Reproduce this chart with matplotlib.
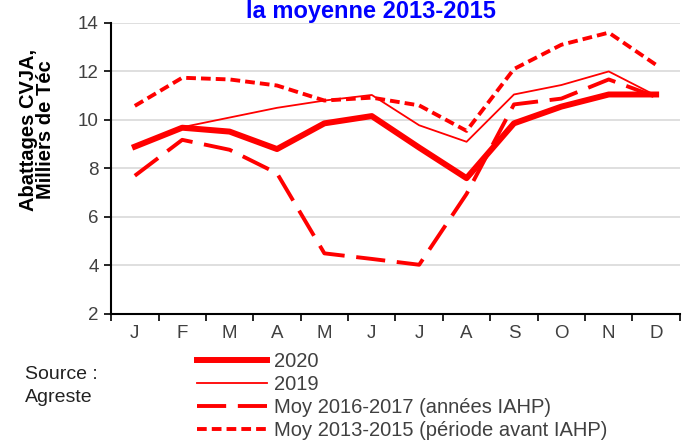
import matplotlib
matplotlib.use('Agg')
import matplotlib.pyplot as plt
import numpy as np

plt.rcParams['font.family'] = ['Liberation Sans', 'DejaVu Sans']

months = ['J', 'F', 'M', 'A', 'M', 'J', 'J', 'A', 'S', 'O', 'N', 'D']
y2020 = [8.9, 9.68, 9.52, 8.8, 9.86, 10.16, 8.86, 7.6, 9.86, 10.55, 11.05, 11.05]
y2019 = [8.95, 9.7, 10.1, 10.5, 10.8, 11.03, 9.78, 9.1, 11.05, 11.44, 12.0, 11.0]
moy_2016_2017 = [7.7, 9.18, 8.77, 7.8, 4.5, 4.27, 4.03, 6.95, 10.64, 10.88, 11.67, 10.95]
moy_2013_2015 = [10.58, 11.74, 11.67, 11.42, 10.8, 10.92, 10.6, 9.55, 12.1, 13.1, 13.6, 12.27]

fig = plt.figure(figsize=(6.86, 4.41), dpi=100)
ax = fig.add_axes([0.162, 0.288, 0.829, 0.660])

x = np.arange(len(months))
red = '#ff0000'
txt = '#404040'
l1, = ax.plot(x, y2020, color=red, lw=4.3, label='2020')
l2, = ax.plot(x, y2019, color=red, lw=1.3, label='2019')
l3, = ax.plot(x, moy_2016_2017, color=red, lw=2.8, dashes=(7.5, 3),
              label='Moy 2016-2017 (années IAHP)')
l4, = ax.plot(x, moy_2013_2015, color=red, lw=2.8, dashes=(2.5, 1.3),
              label='Moy 2013-2015 (période avant IAHP)')

ax.set_xlim(-0.5, 11.5)
ax.set_ylim(2, 14)
ax.set_yticks(np.arange(2, 15, 2))
ax.set_xticks(np.arange(-0.5, 12, 1))
ax.set_xticklabels([])
ax.set_xticks(x, minor=True)
ax.set_xticklabels(months, minor=True)
ax.tick_params(axis='x', which='major', direction='out', length=5, width=1.2)
ax.tick_params(axis='x', which='minor', length=0, pad=8, labelsize=13.5, labelcolor=txt)
ax.tick_params(axis='y', direction='out', length=5, width=1.2, labelsize=13.5,
               labelcolor=txt, pad=4)
ax.grid(axis='y', color='#d9d9d9', lw=1.2)
ax.set_axisbelow(True)
for s in ['top', 'right']:
    ax.spines[s].set_visible(False)
for s in ['left', 'bottom']:
    ax.spines[s].set_linewidth(1.5)
    ax.spines[s].set_color('black')

fig.text(37 / 686, 1 - 130 / 441, 'Abattages CVJA,\nMilliers de Téc', fontsize=14.5,
         fontweight='bold', rotation=90, ha='center', va='center',
         linespacing=0.88, multialignment='center')

fig.text(371 / 686, 1 - 18 / 441, 'la moyenne 2013-2015', color='#0000ff', fontsize=17,
         fontweight='bold', ha='center', va='baseline')

fig.text(25 / 686, 1 - 386 / 441, 'Source :\nAgreste', fontsize=14, color='#222222',
         va='center', ha='left', linespacing=1.45)

fig.legend(handles=[l1, l2, l3, l4], loc='upper left',
           bbox_to_anchor=(197 / 686, 1 - 352 / 441),
           frameon=False, fontsize=14.5, handlelength=3.5, handletextpad=0.3,
           labelspacing=0.2, borderaxespad=0, borderpad=0, labelcolor=txt)

fig.savefig('out.png', dpi=100)
